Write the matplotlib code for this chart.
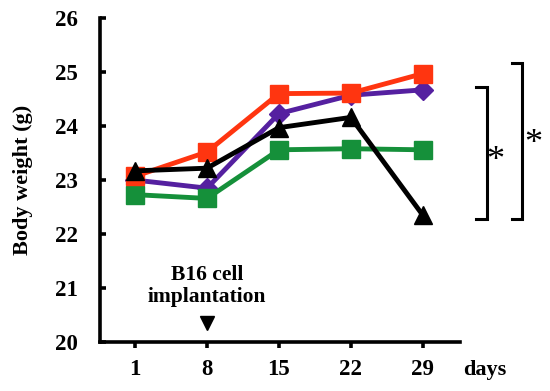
import matplotlib
matplotlib.use("Agg")
import matplotlib.pyplot as plt

plt.rcParams['font.family'] = ['Liberation Serif', 'DejaVu Serif']

days = [1, 8, 15, 22, 29]
day_labels = ['1', '8', '15', '22', '29']
red = [23.07, 23.52, 24.6, 24.61, 24.97]
purple = [23.0, 22.85, 24.23, 24.57, 24.67]
black = [23.17, 23.22, 23.97, 24.16, 22.35]
green = [22.73, 22.66, 23.56, 23.58, 23.56]

fig = plt.figure(figsize=(5.5, 3.91), dpi=100)
ax = fig.add_axes([0.182, 0.125, 0.654, 0.829])

lw = 3.5
ax.plot(days, purple, color='#5520a0', lw=lw, marker='D', ms=10, zorder=3)
ax.plot(days, green, color='#15903a', lw=lw, marker='s', ms=13, zorder=3)
ax.plot(days, red, color='#ff3510', lw=lw, marker='s', ms=13, zorder=4)
ax.plot(days, black, color='black', lw=lw, marker='^', ms=13, zorder=5)

ax.set_xlim(-2.4, 32.6)
ax.set_ylim(20, 26)
ax.set_xticks(days)
ax.set_xticklabels(day_labels)
ax.set_yticks(range(20, 27))

for s in ['top', 'right']:
    ax.spines[s].set_visible(False)
for s in ['left', 'bottom']:
    ax.spines[s].set_linewidth(2.6)
ax.tick_params(axis='y', direction='in', length=4, width=2.6, labelsize=16.5, pad=16)
ax.tick_params(axis='x', direction='out', length=4, width=2.6, labelsize=16.5, pad=8)
for lab in ax.get_xticklabels() + ax.get_yticklabels():
    lab.set_fontweight('bold')

ax.set_ylabel('Body weight (g)', fontsize=16, fontweight='bold', labelpad=16)

# implantation marker
ax.text(8, 21.04, 'B16 cell\nimplantation', ha='center', va='center',
        fontsize=15.5, fontweight='bold', linespacing=1.15)
ax.plot([8], [20.36], marker='v', color='black', ms=10, clip_on=False)

# days label
ax.text(35.0, 19.48, 'days', ha='center', va='center', fontsize=16,
        fontweight='bold', clip_on=False)

# significance brackets
def bracket(x0, x1, y0, y1, star_x, star_y):
    ax.plot([x0, x1, x1, x0], [y1, y1, y0, y0], color='black', lw=2.2,
            clip_on=False, solid_joinstyle='miter')
    ax.text(star_x, star_y, '*', ha='center', va='center', fontsize=26,
            clip_on=False)

bracket(34.2, 35.2, 22.28, 24.72, 36.1, 23.35)
bracket(37.7, 38.7, 22.28, 25.17, 39.8, 23.65)

fig.savefig('out.png', dpi=100)
